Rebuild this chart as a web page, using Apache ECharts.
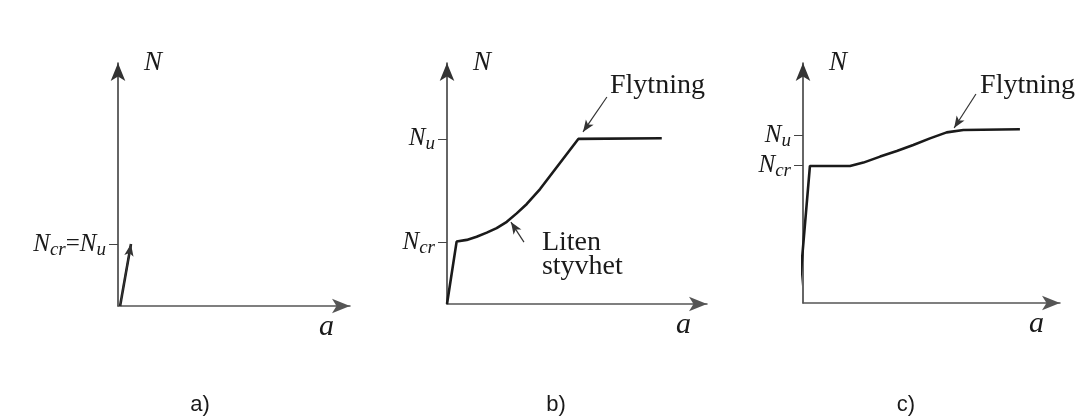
<!DOCTYPE html>
<html>
<head>
<meta charset="utf-8">
<script src="https://cdn.jsdelivr.net/npm/echarts@6/dist/echarts.min.js"></script>
<style>
html, body { margin: 0; padding: 0; background: #fff; }
#chart { width: 1089px; height: 416px; }
</style>
</head>
<body>
<div id="chart"></div>
<script>
// a) buckling and failure at the same load
var curveA = [[0.9, 0], [5.6, 25.5]];
var ticksA = [25.5];
var tickLabelsA = ['N_cr=N_u'];

// b) large post-buckling strength
var curveB = [[0, 0], [3.7, 25.9], [7.6, 26.6], [11.4, 27.9], [15.3, 29.6], [19.1, 31.5], [23, 34.1],
  [26.8, 37.6], [30.7, 41.5], [35.8, 47.7], [50.5, 68.5], [82.6, 68.8]];
var ticksB = [25.7, 68.5];
var tickLabelsB = ['N_cr', 'N_u'];
var notesB = [
  { text: 'Flytning', at: [62.7, 90.5], from: [61.5, 85.9], to: [52.3, 71.4] },
  { text: 'Liten\nstyvhet', at: [36.5, 20.3], from: [29.6, 25.7], to: [24.6, 34] }
];

// c) small post-buckling strength
var curveC = [[-1.8, 0.5], [2.7, 57.1], [18.3, 57.1], [23.5, 58.5], [30, 61], [36.5, 63.3], [42.9, 65.8],
  [49.4, 68.6], [55.9, 71.1], [62.4, 72.1], [84.4, 72.4]];
var ticksC = [57.5, 70];
var tickLabelsC = ['N_cr', 'N_u'];
var notesC = [
  { text: 'Flytning', at: [68.9, 90.4], from: [67.3, 87.1], to: [58.8, 72.9] }
];

var panelNames = ['a)', 'b)', 'c)'];
var panelNameX = [200, 556, 906];

var serif = 'Liberation Serif, DejaVu Serif, serif';
var ink = '#1a1a1a';

// "N_cr" -> rich text with subscript
function toRich(s) {
  return s.split('=').map(function (part) {
    var p = part.split('_');
    return '{n|' + p[0] + '}' + (p[1] ? '{s|' + p[1] + '}' : '');
  }).join('{e|=}');
}

var rich = {
  n: { fontFamily: serif, fontStyle: 'italic', fontSize: 25, color: ink },
  s: { fontFamily: serif, fontStyle: 'italic', fontSize: 19, color: ink, padding: [11, 0, 0, 0] },
  e: { fontFamily: serif, fontSize: 25, color: ink }
};

var grids = [
  { left: 118, top: 63, width: 232, height: 243 },
  { left: 447, top: 63, width: 260, height: 241 },
  { left: 803, top: 63, width: 257, height: 240 }
];

var xAxes = [], yAxes = [], series = [];

function addPanel(i, curve, ticks, tickLabels, notes, arrowEnd) {
  xAxes.push({
    gridIndex: i, type: 'value', min: 0, max: 100,
    name: 'a', nameLocation: 'end', nameGap: -16,
    nameTextStyle: { fontFamily: serif, fontStyle: 'italic', fontSize: 30, color: ink, align: 'right', verticalAlign: 'top', padding: [6, 0, 0, 0] },
    axisLine: { show: true, onZero: false, symbol: ['none', 'arrow'], symbolSize: [11, 18], lineStyle: { color: '#555', width: 1.5 } },
    axisTick: { show: false }, axisLabel: { show: false }, splitLine: { show: false }
  });
  yAxes.push({
    gridIndex: i, type: 'value', min: 0, max: 100,
    name: 'N', nameLocation: 'end', nameGap: 0,
    nameTextStyle: { fontFamily: serif, fontStyle: 'italic', fontSize: 27, color: ink, align: 'left', verticalAlign: 'middle', padding: [0, 0, 0, 26] },
    axisLine: { show: true, onZero: false, symbol: ['none', 'arrow'], symbolSize: [11, 18], lineStyle: { color: '#333', width: 1.5 } },
    axisTick: { show: true, inside: false, length: 9, customValues: ticks, lineStyle: { color: '#444', width: 1 } },
    axisLabel: {
      show: true, customValues: ticks, margin: 12, rich: rich,
      formatter: function (v) { return toRich(tickLabels[ticks.indexOf(v)]); }
    },
    splitLine: { show: false }
  });
  var marks = notes.map(function (n) { return [{ coord: n.from }, { coord: n.to }]; });
  if (arrowEnd) marks.push([{ coord: curve[0] }, { coord: curve[curve.length - 1] }]);
  series.push({
    type: 'line', xAxisIndex: i, yAxisIndex: i, data: curve,
    showSymbol: false, clip: false, silent: true,
    lineStyle: { color: ink, width: 2.6 },
    markLine: {
      silent: true, symbol: ['none', 'arrow'], symbolSize: [7, 12],
      lineStyle: { color: '#333', width: 1.2, type: 'solid' },
      label: { show: false }, data: marks
    }
  });
  if (notes.length) {
    series.push({
      type: 'scatter', xAxisIndex: i, yAxisIndex: i, symbolSize: 0, silent: true,
      itemStyle: { opacity: 1 },
      data: notes.map(function (n) { return { name: n.text, value: n.at }; }),
      label: { show: true, position: 'right', distance: 0, formatter: '{b}', fontFamily: serif, fontSize: 28, lineHeight: 24, color: ink, align: 'left' }
    });
  }
}

addPanel(0, curveA, ticksA, tickLabelsA, [], true);
addPanel(1, curveB, ticksB, tickLabelsB, notesB, false);
addPanel(2, curveC, ticksC, tickLabelsC, notesC, false);

var chart = echarts.init(document.getElementById('chart'));
chart.setOption({
  backgroundColor: '#fff',
  animation: false,
  grid: grids,
  xAxis: xAxes,
  yAxis: yAxes,
  series: series,
  graphic: panelNames.map(function (t, k) {
    return {
      type: 'text', x: panelNameX[k], y: 405,
      style: { text: t, align: 'center', verticalAlign: 'middle', fontFamily: 'Liberation Sans Narrow, Liberation Sans, sans-serif', fontSize: 22, fill: ink }
    };
  })
});
</script>
</body>
</html>
